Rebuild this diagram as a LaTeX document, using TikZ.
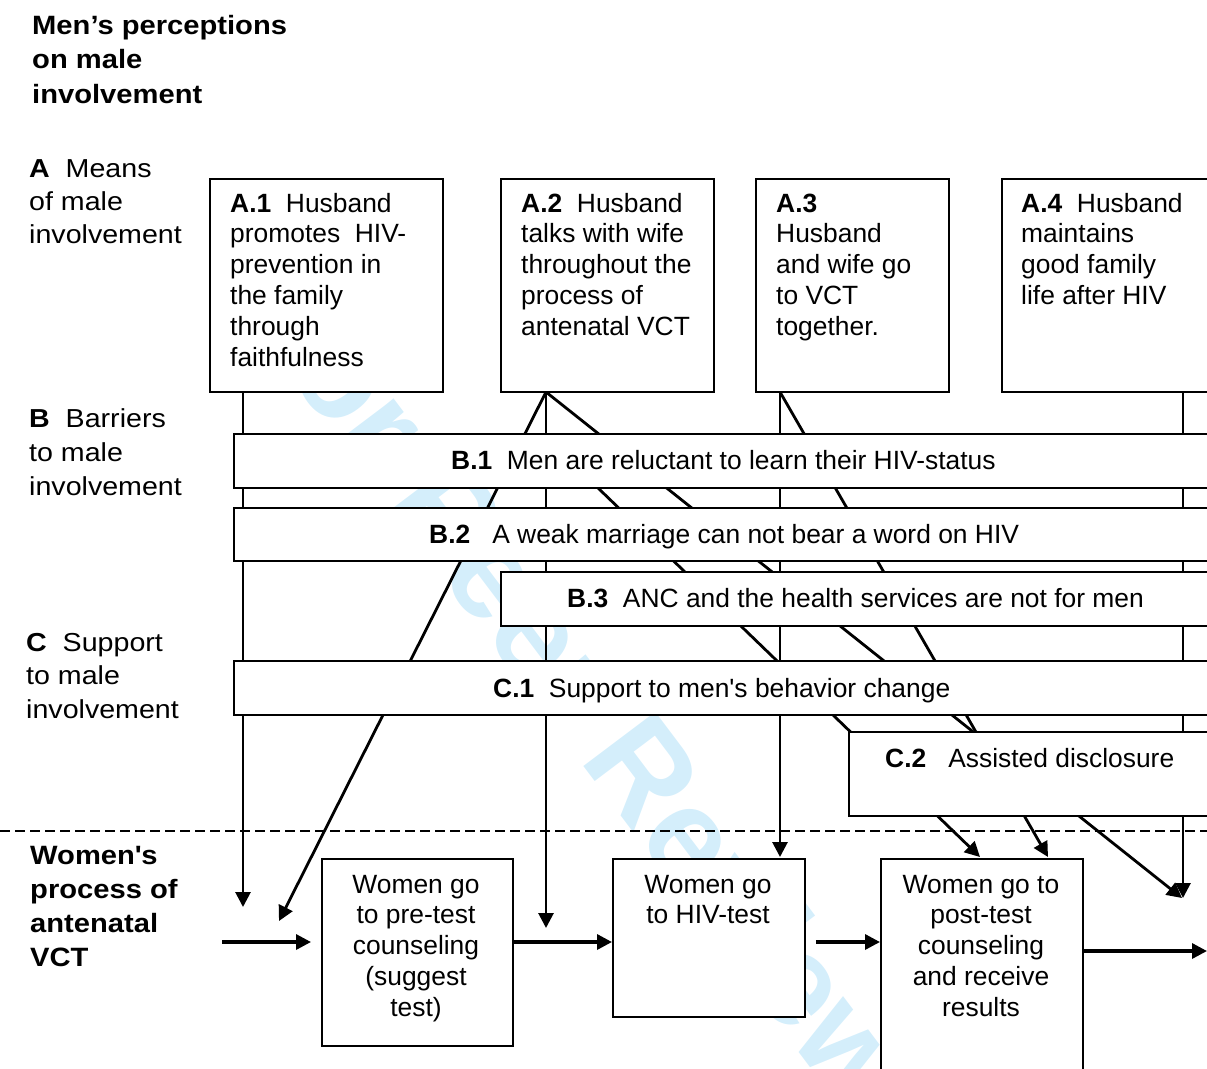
\documentclass[tikz,border=0pt]{standalone}
\usepackage{fontspec}
\setmainfont{Liberation Sans}
\newfontfamily\lblfont[FakeStretch=1.1]{Liberation Sans}
\usetikzlibrary{arrows.meta}
\definecolor{wmblue}{RGB}{212,238,251}
\begin{document}
\begin{tikzpicture}[x=1pt,y=-1pt,
  box/.style={draw, line width=1.9pt, fill=white, inner sep=0pt, anchor=north west},
  arr/.style={line width=2.8pt, -{Triangle[length=15pt,width=15pt]}},
  flow/.style={line width=3.3pt, -{Triangle[length=15pt,width=15pt]}},
  boxtxt/.style={inner sep=0pt, anchor=base west, align=left, font=\fontsize{26.4pt}{30.8pt}\selectfont},
  bartxt/.style={inner sep=0pt, anchor=base west, font=\fontsize{26.4pt}{30.8pt}\selectfont},
  proctxt/.style={inner sep=0pt, anchor=base, align=center, font=\fontsize{26.4pt}{30.8pt}\selectfont},
  sidelbl/.style={inner sep=0pt, anchor=base west, align=left, font=\lblfont\fontsize{26pt}{33pt}\selectfont},
  headlbl/.style={inner sep=0pt, anchor=base west, align=left, font=\lblfont\bfseries\fontsize{26.5pt}{34.3pt}\selectfont},
  dashline/.style={line width=2pt, dash pattern=on 10pt off 5pt}
]
\useasboundingbox (0,0) rectangle (1207,1068);
\clip (0,0) rectangle (1207,1068);

% watermark
\node[rotate=-53, text=wmblue, inner sep=0pt, font=\bfseries\fontsize{131pt}{131pt}\selectfont] (wmark) at (581,685) {For Peer Review};

% connector end points
\coordinate (a1o) at (243,391);
\coordinate (a1t) at (243,907);
\coordinate (a2o) at (546,392);
\coordinate (a2l) at (279,921);
\coordinate (a2v) at (546,928);
\coordinate (a2r) at (1182,898);
\coordinate (b1o) at (597,487);
\coordinate (b1t) at (980,857);
\coordinate (a3o) at (780,392);
\coordinate (a3v) at (780,857);
\coordinate (a3r) at (1048,857);
\coordinate (a4o) at (1183,391);
\coordinate (a4t) at (1183,898);

% connectors (behind the boxes)
\draw[arr] (a1o) -- (a1t);
\draw[arr] (a2o) -- (a2l);
\draw[arr] (a2o) -- (a2v);
\draw[arr] (a2o) -- (a2r);
\draw[arr] (b1o) -- (b1t);
\draw[arr] (a3o) -- (a3v);
\draw[arr] (a3o) -- (a3r);
\draw[arr] (a4o) -- (a4t);

% boxes
\node[box, minimum width=233pt, minimum height=213pt] (a1) at (209,178) {};
\node[box, minimum width=213pt, minimum height=213pt] (a2) at (500,178) {};
\node[box, minimum width=193pt, minimum height=213pt] (a3) at (755,178) {};
\node[box, minimum width=260pt, minimum height=213pt] (a4) at (1001,178) {};
\node[box, minimum width=1000pt, minimum height=54pt] (b1) at (233,433) {};
\node[box, minimum width=1000pt, minimum height=53pt] (b2) at (233,507) {};
\node[box, minimum width=740pt, minimum height=54pt] (b3) at (500,571) {};
\node[box, minimum width=1000pt, minimum height=54pt] (c1) at (233,660) {};
\node[box, minimum width=400pt, minimum height=84pt] (c2) at (848,731) {};
\node[box, minimum width=191pt, minimum height=187pt] (pre) at (321,858) {};
\node[box, minimum width=192pt, minimum height=158pt] (hiv) at (612,858) {};
\node[box, minimum width=202pt, minimum height=230pt] (post) at (880,858) {};

% left labels (anchored at the baseline of their last line)
\node[headlbl] (title) at (32,103.1) {Men’s perceptions\\on male\\involvement};
\node[sidelbl] (labA) at (29,243) {\textbf{A}\ \ Means\\of male\\involvement};
\node[sidelbl, font=\lblfont\fontsize{26pt}{34pt}\selectfont] (labB) at (29,495) {\textbf{B}\ \ Barriers\\to male\\involvement};
\node[sidelbl, font=\lblfont\fontsize{26pt}{33.5pt}\selectfont] (labC) at (26,718) {\textbf{C}\ \ Support\\to male\\involvement};
\node[headlbl, font=\lblfont\bfseries\fontsize{26.5pt}{33.7pt}\selectfont] (labW) at (30,966) {Women\textquotesingle s\\process of\\antenatal\\VCT};

% box texts
\node[boxtxt] (ta1) at (230,366) {\textbf{A.1}\ \ Husband\\promotes\ \ HIV-\\prevention in\\the family\\through\\faithfulness};
\node[boxtxt] (ta2) at (521,335.2) {\textbf{A.2}\ \ Husband\\talks with wife\\throughout the\\process of\\antenatal VCT};
\node[boxtxt] (ta3) at (776,335.2) {\textbf{A.3}\\Husband\\and wife go\\to VCT\\together.};
\node[boxtxt] (ta4) at (1021,304.4) {\textbf{A.4}\ \ Husband\\maintains\\good family\\life after HIV};

\node[bartxt] (tb1) at (451,469) {\textbf{B.1}\ \ Men are reluctant to learn their HIV-status};
\node[bartxt] (tb2) at (429,543) {\textbf{B.2}\ \ \ A weak marriage can not bear a word on HIV};
\node[bartxt] (tb3) at (567,607) {\textbf{B.3}\ \ ANC and the health services are not for men};
\node[bartxt] (tc1) at (493,697) {\textbf{C.1}\ \ Support to men\textquotesingle s behavior change};
\node[bartxt] (tc2) at (885,767) {\textbf{C.2}\ \ \ Assisted disclosure};

\node[proctxt] (tpre) at (416,1016.2) {Women go\\to pre-test\\counseling\\(suggest\\test)};
\node[proctxt] (thiv) at (708,923.8) {Women go\\to HIV-test};
\node[proctxt] (tpost) at (981,1016.2) {Women go to\\post-test\\counseling\\and receive\\results};

% separator
\coordinate (dl) at (0,831);
\coordinate (dr) at (1207,831);
\draw[dashline] (dl) -- (dr);

% process flow
\coordinate (flowin) at (222,942);
\coordinate (flowinend) at (311,942);
\coordinate (flowout) at (1207,951);
\draw[flow] (flowin) -- (flowinend);
\draw[flow] (pre.east |- flowin) -- (hiv.west |- flowin);
\draw[flow] ([xshift=10pt]hiv.east |- flowin) -- (post.west |- flowin);
\draw[flow] (post.east |- flowout) -- (flowout);
\end{tikzpicture}
\end{document}
